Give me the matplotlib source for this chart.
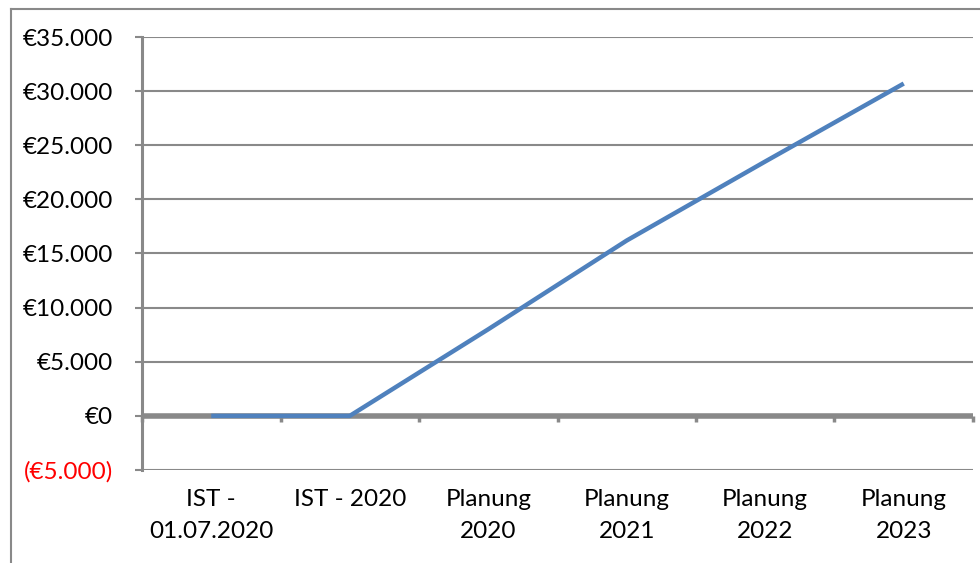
import matplotlib
matplotlib.use("Agg")
import matplotlib.pyplot as plt
from matplotlib.lines import Line2D

categories = ["IST -\n01.07.2020", "IST - 2020", "Planung\n2020", "Planung\n2021", "Planung\n2022", "Planung\n2023"]
values = [0, 0, 8000, 16200, 23500, 30700]
y_ticks = [-5000, 0, 5000, 10000, 15000, 20000, 25000, 30000, 35000]

def euro(v):
    s = "€" + f"{abs(v):,}".replace(",", ".")
    return f"({s})" if v < 0 else s

plt.rcParams['font.family'] = ['Lato', 'DejaVu Sans']
GRAY = '#898989'
BLUE = '#4F81BD'

W, H = 980, 563
fig = plt.figure(figsize=(W / 100, H / 100), dpi=100)
left, right, top, bottom = 142, 973, 37, 470
ax = fig.add_axes([left / W, 1 - bottom / H, (right - left) / W, (bottom - top) / H])

x = list(range(len(categories)))
ymin, ymax = y_ticks[0], y_ticks[-1]
ax.set_xlim(-0.5, len(categories) - 0.5)
ax.set_ylim(ymin, ymax)

ax.set_yticks(y_ticks, [euro(v) for v in y_ticks])
for lab, v in zip(ax.get_yticklabels(), y_ticks):
    lab.set_color('red' if v < 0 else 'black')
ax.grid(axis='y', color=GRAY, lw=1.5, zorder=1)
ax.set_axisbelow(True)
ax.tick_params(axis='y', direction='out', length=5, width=1.5, color=GRAY, pad=16, labelsize=17.5)

ax.set_xticks(x, categories)
ax.tick_params(axis='x', length=0, pad=14, labelsize=17.5)
for lab in ax.get_xticklabels():
    lab.set_linespacing(1.6)

for s in ['top', 'right', 'bottom']:
    ax.spines[s].set_visible(False)
ax.spines['left'].set_color(GRAY)
ax.spines['left'].set_linewidth(2.2)

# zero axis line with category boundary ticks
ax.axhline(0, color=GRAY, lw=4, zorder=2)
zero_pos = (0 - ymin) / (ymax - ymin)
sec = ax.secondary_xaxis(zero_pos)
sec.set_xticks([i - 0.5 for i in range(len(categories) + 1)], [''] * (len(categories) + 1))
sec.tick_params(direction='out', length=4, width=2.5, color=GRAY)
sec.spines['bottom'].set_visible(False)

ax.plot(x, values, color=BLUE, lw=3.2, zorder=5, solid_capstyle='butt')

# outer chart border
fig.add_artist(Line2D([11 / W, 11 / W], [0, 1 - 9 / H], color=GRAY, lw=1.5, transform=fig.transFigure))
fig.add_artist(Line2D([11 / W, 1], [1 - 9 / H, 1 - 9 / H], color=GRAY, lw=1.5, transform=fig.transFigure))

fig.savefig("out.png", dpi=100, facecolor='white')
